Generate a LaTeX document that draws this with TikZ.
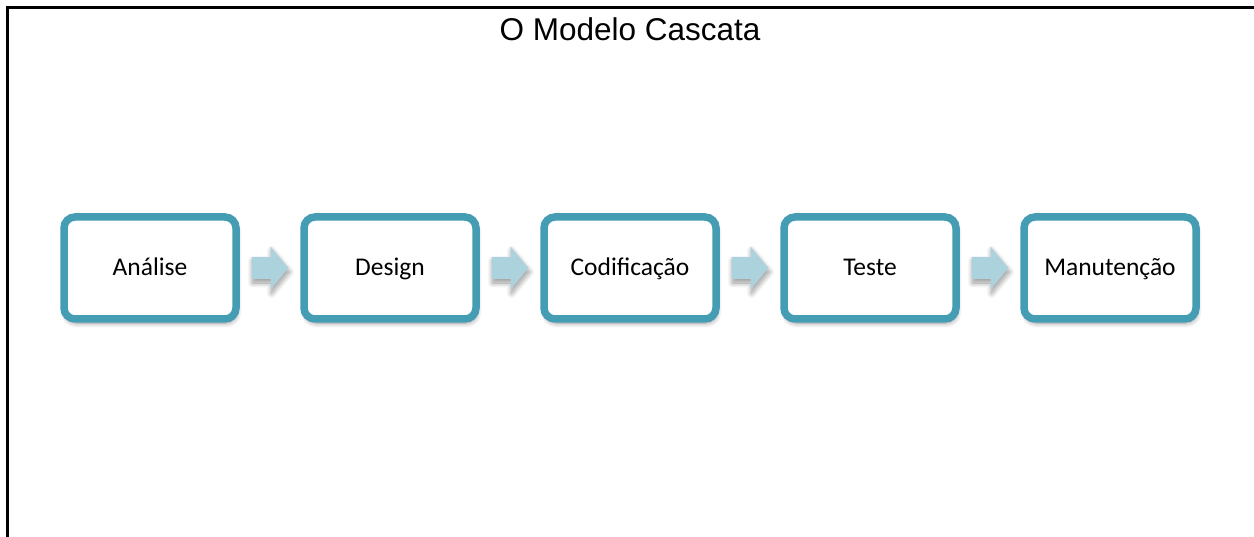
\documentclass[tikz,border=0pt]{standalone}
\usepackage{fontspec}
\setmainfont{Carlito}
\newfontfamily\titlefont{Liberation Sans}
\usetikzlibrary{calc,shadows.blur}
\definecolor{stageblue}{RGB}{69,157,180}
\definecolor{flowblue}{RGB}{172,210,222}

\begin{document}
\begin{tikzpicture}[x=1pt,y=-1pt,
  softshadow/.style={blur shadow={shadow xshift=1pt, shadow yshift=-4pt,
      shadow blur steps=12, shadow blur radius=5pt, shadow opacity=40}},
  stage/.style={draw=stageblue, line width=7.5pt, fill=white,
      rounded corners=11pt, minimum width=172pt, minimum height=102pt,
      inner sep=0pt, text height=18pt, text depth=2pt,
      font=\fontsize{25.5}{30}\selectfont, softshadow},
  flowarrow/.pic={
    \path[fill=flowblue, softshadow]
      (-18.5,-11) -- (0.5,-11) -- (0.5,-21.5) -- (18.5,0)
      -- (0.5,21.5) -- (0.5,11) -- (-18.5,11) -- cycle;
  }
]
\useasboundingbox (0,0) rectangle (1254,537);

% frame: top and left edges only
\draw[line width=2.6pt] (7.5,537) -- (7.5,7.5) -- (1254,7.5);

% title
\node[font=\titlefont\fontsize{31.5}{36}\selectfont] (title) at (630,29) {O Modelo Cascata};

% process stages
\node[stage] (s1) at (150,268)  {Análise};
\node[stage] (s2) at (390,268)  {Design};
\node[stage] (s3) at (630,268)  {Codificação};
\node[stage] (s4) at (870,268)  {Teste};
\node[stage] (s5) at (1110,268) {Manutenção};

% block arrows between stages
\foreach \p/\q in {s1/s2, s2/s3, s3/s4, s4/s5}
  \pic at ($(\p.east)!0.5!(\q.west)$) {flowarrow};
\end{tikzpicture}
\end{document}
